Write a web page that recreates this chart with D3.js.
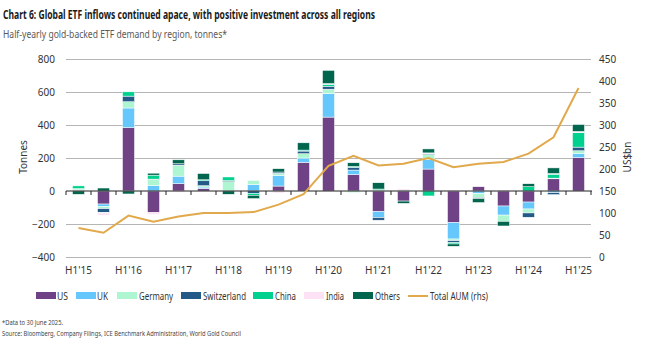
<!DOCTYPE html>
<html>
<head>
<meta charset="utf-8">
<script src="https://cdn.jsdelivr.net/npm/d3@7"></script>
<style>
  body { margin: 0; background: #fff; }
  svg { display: block; font-family: "Noto Sans", "Open Sans", sans-serif; }
</style>
</head>
<body>
<svg id="chart" width="654" height="350"></svg>
<script>
// ---- data ----
const periods = ["H1'15","H2'15","H1'16","H2'16","H1'17","H2'17","H1'18","H2'18","H1'19","H2'19",
                 "H1'20","H2'20","H1'21","H2'21","H1'22","H2'22","H1'23","H2'23","H1'24","H2'24","H1'25"];
const seriesNames = ["US","UK","Germany","Switzerland","China","India","Others"];
const US          = [4, -79, 384, -131, 44, 16, 0, 0, 30, 174, 448, 99, -125, -61, 133, -192, 26, -91, -67, 74, 202];
const UK          = [0, -16, 119, 32, 46, 8, 0, 40, 65, 26, 143, 28, -36, 0, 58, -99, -16, -55, -42, -10, 24];
const Germany     = [8, -12, 38, 36, 67, 8, 57, 24, 12, 26, 26, -10, 6, 0, 30, -10, -24, -38, -24, 4, 18];
const Switzerland = [3, -22, 34, 4, 8, 30, 6, -14, 8, 16, 18, 16, -16, 0, 6, -12, -6, 0, -26, -12, 22];
const China       = [16, -4, 26, 24, 0, 6, 22, -12, 0, 6, 12, 6, 6, 5, -30, -8, 0, 0, 26, 24, 87];
const India       = [0, -14, 0, -12, -8, 0, 0, 0, -12, 0, 4, 0, 0, 8, 4, 6, 0, 6, 0, 4, 8];
const Others      = [-20, 18, -18, 12, 24, 38, -20, -20, 20, 44, 80, 22, 38, -14, 24, -14, -24, -28, 18, 34, 42];
const totalAUM    = [66, 55, 94, 80, 92, 100, 100, 102, 119, 143, 207, 230, 208, 212, 225, 204, 212, 216, 235, 272, 384];
const leftTicks   = [-400, -200, 0, 200, 400, 600, 800];
const rightTicks  = [0, 50, 100, 150, 200, 250, 300, 350, 400, 450];

const colors = {US:"#6e4285", UK:"#66c7fd", Germany:"#aef6d2", Switzerland:"#245a87",
                China:"#00d18f", India:"#fde2f6", Others:"#02664f"};
const lineColor = "#e1a94b";

// ---- build table ----
const seriesData = {US, UK, Germany, Switzerland, China, India, Others};
const table = periods.map((p, i) => {
  const row = {period: p};
  seriesNames.forEach(s => row[s] = seriesData[s][i]);
  return row;
});

const svg = d3.select("#chart");
const L = 66, R = 591, T = 59, B = 257;

const x = d3.scaleBand().domain(periods).range([L, R]).paddingInner(0.52).paddingOuter(0.26);
const y = d3.scaleLinear().domain([-400, 800]).range([B, T]);
const yR = d3.scaleLinear().domain([0, 450]).range([B, T]);

// title
svg.append("text").attr("x", 3).attr("y", 19).attr("font-size", 12).attr("font-weight", "bold")
  .attr("fill", "#1a1a1a").attr("textLength", 372).attr("lengthAdjust", "spacingAndGlyphs")
  .text("Chart 6: Global ETF inflows continued apace, with positive investment across all regions");
svg.append("text").attr("x", 3).attr("y", 38).attr("font-size", 11)
  .attr("fill", "#595959").attr("textLength", 224).attr("lengthAdjust", "spacingAndGlyphs")
  .text("Half-yearly gold-backed ETF demand by region, tonnes*");

// left axis + grid
const gL = svg.append("g").attr("transform", `translate(${L},0)`)
  .call(d3.axisLeft(y).tickValues(leftTicks).tickSize(-(R - L)).tickPadding(11));
gL.select(".domain").remove();
gL.selectAll(".tick line").attr("stroke", "#b5b5b5").attr("stroke-width", 1)
  .attr("display", d => d === 0 ? "none" : null);
gL.selectAll(".tick text").attr("font-size", 10).attr("fill", "#333").attr("font-family", "Noto Sans, sans-serif");

// right axis
const gR = svg.append("g").attr("transform", `translate(${R},0)`)
  .call(d3.axisRight(yR).tickValues(rightTicks).tickSize(0).tickPadding(8));
gR.select(".domain").remove();
gR.selectAll(".tick text").attr("font-size", 10).attr("fill", "#333").attr("font-family", "Noto Sans, sans-serif");

// axis titles
svg.append("text").attr("transform", `translate(27,157) rotate(-90)`).attr("text-anchor", "middle")
  .attr("font-size", 10).attr("fill", "#333").text("Tonnes");
svg.append("text").attr("transform", `translate(631,157) rotate(-90)`).attr("text-anchor", "middle")
  .attr("font-size", 10).attr("fill", "#333").text("US$bn");

// stacked bars
const stack = d3.stack().keys(seriesNames).offset(d3.stackOffsetDiverging);
const stacked = stack(table);
svg.append("g").selectAll("g").data(stacked).join("g")
  .attr("fill", d => colors[d.key])
  .selectAll("rect").data(d => d).join("rect")
  .attr("x", d => x(d.data.period))
  .attr("width", x.bandwidth())
  .attr("y", d => y(Math.max(d[0], d[1])))
  .attr("height", d => Math.abs(y(d[0]) - y(d[1])))
  .attr("stroke", "#fff").attr("stroke-width", 0.5);

// zero axis with ticks at band boundaries
const y0 = y(0);
svg.append("line").attr("x1", L).attr("x2", R + 1).attr("y1", y0).attr("y2", y0)
  .attr("stroke", "#222").attr("stroke-width", 1);
const gap = (x.step() - x.bandwidth()) / 2;
const bounds = periods.map(p => x(p) - gap).concat([x(periods[periods.length - 1]) + x.bandwidth() + gap]);
svg.append("g").selectAll("line").data(bounds).join("line")
  .attr("x1", d => d).attr("x2", d => d).attr("y1", y0).attr("y2", y0 + 4)
  .attr("stroke", "#222").attr("stroke-width", 1);

// x labels
svg.append("g").selectAll("text").data(periods.filter(p => p.startsWith("H1"))).join("text")
  .attr("x", d => x(d) + x.bandwidth() / 2).attr("y", 274).attr("text-anchor", "middle")
  .attr("font-size", 10).attr("fill", "#333").text(d => d);

// AUM line
const line = d3.line().x((d, i) => x(periods[i]) + x.bandwidth() / 2).y(d => yR(d));
svg.append("path").datum(totalAUM).attr("d", line).attr("fill", "none")
  .attr("stroke", lineColor).attr("stroke-width", 2);

// legend
const legendItems = [
  {k:"US", sx:36, tx:57, w:11}, {k:"UK", sx:76, tx:97, w:11}, {k:"Germany", sx:117, tx:139, w:34},
  {k:"Switzerland", sx:181, tx:203, w:43}, {k:"China", sx:253, tx:275, w:21}, {k:"India", sx:304, tx:326, w:18},
  {k:"Others", sx:353, tx:375, w:25}
];
const lg = svg.append("g");
legendItems.forEach(it => {
  lg.append("rect").attr("x", it.sx).attr("y", 292).attr("width", 20).attr("height", 7).attr("fill", colors[it.k]);
  lg.append("text").attr("x", it.tx).attr("y", 300).attr("font-size", 10.5).attr("fill", "#333")
    .attr("textLength", it.w).attr("lengthAdjust", "spacingAndGlyphs").text(it.k);
});
lg.append("line").attr("x1", 408).attr("x2", 428).attr("y1", 296).attr("y2", 296).attr("stroke", lineColor).attr("stroke-width", 2);
lg.append("text").attr("x", 430).attr("y", 300).attr("font-size", 10.5).attr("fill", "#333")
  .attr("textLength", 58).attr("lengthAdjust", "spacingAndGlyphs").text("Total AUM (rhs)");

// footnotes
svg.append("text").attr("x", 2).attr("y", 325).attr("font-size", 7.5).attr("fill", "#444")
  .attr("textLength", 61).attr("lengthAdjust", "spacingAndGlyphs").text("*Data to 30 June 2025.");
svg.append("text").attr("x", 2).attr("y", 336).attr("font-size", 7.5).attr("fill", "#444")
  .attr("textLength", 239).attr("lengthAdjust", "spacingAndGlyphs")
  .text("Source: Bloomberg, Company Filings, ICE Benchmark Administration, World Gold Council");
</script>
</body>
</html>
